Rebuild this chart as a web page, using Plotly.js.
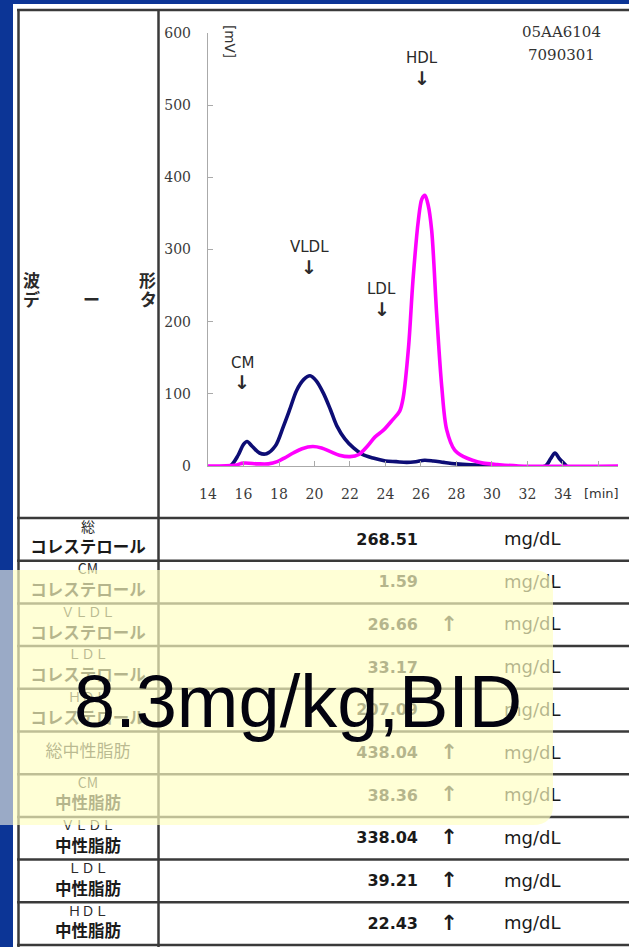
<!DOCTYPE html>
<html>
<head>
<meta charset="utf-8">
<script src="https://cdn.plot.ly/plotly-3.0.1.min.js"></script>
<style>
html,body{margin:0;padding:0;background:#0c3596;}
#chart{width:629px;height:947px;}
</style>
</head>
<body>
<div id="chart"></div>
<script>
// ---- chromatogram data (time [min], signal [mV]) ----
const cholT = [15.0, 15.3, 15.7, 16.0, 16.2, 16.5, 16.9, 17.3, 17.8, 18.25, 18.6, 19.0, 19.4, 19.75, 20.1, 20.5, 20.9, 21.25, 21.7, 22.2, 22.7, 23.3, 24.0, 24.6, 25.2, 25.7, 26.2, 26.7, 27.3, 28.0, 28.8, 29.6, 30.2, 33.0, 33.3, 33.55, 33.8, 34.2];
const cholV = [0, 1, 15, 30, 34, 27, 18, 17, 28, 55, 78, 105, 120, 125, 118, 101, 78, 56, 38, 25, 16, 11, 7, 6, 5, 6, 8, 7, 5, 3, 1.5, 0.5, 0, 0, 10, 18, 10, 0];
const tgT = [14.0, 15.5, 16.0, 16.8, 17.4, 17.9, 18.3, 18.8, 19.3, 19.9, 20.4, 20.9, 21.4, 22.0, 22.5, 23.0, 23.4, 23.9, 24.4, 24.8, 25.0, 25.3, 25.55, 25.85, 26.05, 26.22, 26.4, 26.6, 26.88, 27.17, 27.45, 27.9, 28.4, 28.9, 29.5, 30.3, 31.5, 37.1];
const tgV = [0, 1, 4, 3, 3, 6, 11, 18, 24, 27, 25, 20, 15, 13, 16, 28, 40, 50, 64, 76, 95, 165, 258, 340, 370, 375, 362, 327, 212, 110, 50, 22, 13, 8, 4, 2, 0, 0];

const xTicks = [14, 16, 18, 20, 22, 24, 26, 28, 30, 32, 34, 36];
const xTickText = ['14', '16', '18', '20', '22', '24', '26', '28', '30', '32', '34', ''];
const yTicks = [0, 100, 200, 300, 400, 500, 600];

const peakNames = ['CM', 'VLDL', 'LDL', 'HDL'];
const peakT = [15.92, 19.7, 23.78, 26.08];
const peakLabelV = [143, 303, 245, 565];

const sampleIds = ['05AA6104', '7090301'];

// ---- table ----
const rowLine1 = ['総', 'CM', 'ＶＬＤＬ', 'ＬＤＬ', 'ＨＤＬ', '総中性脂肪', 'CM', 'ＶＬＤＬ', 'ＬＤＬ', 'ＨＤＬ'];
const rowLine2 = ['コレステロール', 'コレステロール', 'コレステロール', 'コレステロール', 'コレステロール', '', '中性脂肪', '中性脂肪', '中性脂肪', '中性脂肪'];
const values = ['268.51', '1.59', '26.66', '33.17', '207.09', '438.04', '38.36', '338.04', '39.21', '22.43'];
const flags = ['', '', '↑', '', '', '↑', '↑', '↑', '↑', '↑'];
const unitText = 'mg/dL';
const overlayText = '8.3mg/kg,BID';

// ---- layout helpers (pixel geometry) ----
const W = 629, H = 947;
const tableTop = 518, tableBottom = 945;
const rowH = (tableBottom - tableTop) / rowLine1.length;
const rowTop = i => tableTop + i * rowH;

const traces = [];
traces.push({x: cholT, y: cholV, type: 'scatter', mode: 'lines', cliponaxis: false,
  line: {color: '#0d0d75', width: 3.6, shape: 'spline', smoothing: 0.9}, hoverinfo: 'skip'});
traces.push({x: tgT, y: tgV, type: 'scatter', mode: 'lines', cliponaxis: false,
  line: {color: '#ff00ff', width: 3.6, shape: 'spline', smoothing: 0.9}, hoverinfo: 'skip'});

// table text (as traces so the translucent overlay sits above them)
const idx = rowLine1.map((_, i) => i);
traces.push({
  x: idx.map(() => 88), y: idx.map(i => rowLine2[i] === '' ? rowTop(i) + 21 : rowTop(i) + 10),
  text: rowLine1, type: 'scatter', mode: 'text', xaxis: 'x2', yaxis: 'y2', cliponaxis: false,
  textposition: 'middle center', hoverinfo: 'skip',
  textfont: {family: 'Noto Sans CJK JP', color: '#2a2a2a',
    size: rowLine1.map((t, i) => rowLine2[i] === '' ? 17 : (t === '総' ? 14 : (t === 'CM' ? 14 : 13.5)))}
});
traces.push({
  x: idx.map(() => 88), y: idx.map(i => rowTop(i) + 31),
  text: rowLine2, type: 'scatter', mode: 'text', xaxis: 'x2', yaxis: 'y2', cliponaxis: false,
  textposition: 'middle center', hoverinfo: 'skip',
  textfont: {family: 'Noto Sans CJK JP', color: '#1a1a1a', size: 16.5, weight: 700}
});
traces.push({
  x: idx.map(() => 418), y: idx.map(i => rowTop(i) + 22.5),
  text: values, type: 'scatter', mode: 'text', xaxis: 'x2', yaxis: 'y2', cliponaxis: false,
  textposition: 'middle left', hoverinfo: 'skip',
  textfont: {family: 'DejaVu Sans', color: '#1a1a1a', size: 16, weight: 700}
});
traces.push({
  x: idx.map(() => 449), y: idx.map(i => rowTop(i) + 22),
  text: flags, type: 'scatter', mode: 'text', xaxis: 'x2', yaxis: 'y2', cliponaxis: false,
  textposition: 'middle center', hoverinfo: 'skip',
  textfont: {family: 'DejaVu Sans', color: '#1a1a1a', size: 21, weight: 700}
});
traces.push({
  x: idx.map(() => 504), y: idx.map(i => rowTop(i) + 22.5),
  text: idx.map(() => unitText), type: 'scatter', mode: 'text', xaxis: 'x2', yaxis: 'y2', cliponaxis: false,
  textposition: 'middle right', hoverinfo: 'skip',
  textfont: {family: 'DejaVu Sans', color: '#1a1a1a', size: 18}
});

// ---- shapes ----
const lineCol = '#3a3a3a';
const shapes = [];
shapes.push({type: 'rect', xref: 'paper', yref: 'paper', x0: 13 / W, x1: 1, y0: 0, y1: 1 - 4 / H,
  fillcolor: '#ffffff', line: {width: 0}, layer: 'below'});
shapes.push({type: 'line', xref: 'x2', yref: 'y2', x0: 17, x1: W, y0: 10, y1: 10, line: {color: lineCol, width: 2.5}, layer: 'below'});
shapes.push({type: 'line', xref: 'x2', yref: 'y2', x0: 18.5, x1: 18.5, y0: 9, y1: tableBottom + 2, line: {color: lineCol, width: 2.5}, layer: 'below'});
shapes.push({type: 'line', xref: 'x2', yref: 'y2', x0: 158.5, x1: 158.5, y0: 9, y1: tableBottom + 2, line: {color: lineCol, width: 2.5}, layer: 'below'});
for (let i = 0; i <= rowLine1.length; i++) {
  shapes.push({type: 'line', xref: 'x2', yref: 'y2', x0: 17, x1: W, y0: rowTop(i), y1: rowTop(i),
    line: {color: lineCol, width: 2.5}, layer: 'below'});
}
// translucent yellow box
shapes.push({type: 'path', xref: 'x2', yref: 'y2', layer: 'above',
  path: 'M -30 570 L 533 570 Q 553 570 553 590 L 553 805 Q 553 825 533 825 L -30 825 Z',
  fillcolor: 'rgba(255,255,195,0.68)', line: {width: 0}});
// overlay over the blue margin looks bluish-grey
shapes.push({type: 'rect', xref: 'x2', yref: 'y2', layer: 'above', x0: 0, x1: 13, y0: 570, y1: 825,
  fillcolor: '#9aaac6', line: {width: 0}});

// ---- annotations ----
const ann = [];
peakNames.forEach((n, i) => {
  ann.push({xref: 'x', yref: 'y', x: peakT[i], y: peakLabelV[i], text: n, showarrow: false,
    font: {family: 'DejaVu Sans', size: 15, color: '#2a2a2a'}});
  ann.push({xref: 'x', yref: 'y', x: peakT[i], y: peakLabelV[i] - 27, text: '↓', showarrow: false,
    font: {family: 'DejaVu Sans', size: 19, color: '#2a2a2a', weight: 700}});
});
sampleIds.forEach((s, i) => {
  ann.push({xref: 'x2', yref: 'y2', x: 561, y: 32 + i * 23, text: s, showarrow: false,
    font: {family: 'DejaVu Serif', size: 15, color: '#333'}});
});
ann.push({xref: 'x2', yref: 'y2', x: 230, y: 41, text: '[mV]', textangle: 90, showarrow: false,
  font: {family: 'DejaVu Sans', size: 13.5, color: '#333'}});
ann.push({xref: 'x', yref: 'y2', x: 36.15, y: 493, text: '[min]', showarrow: false,
  font: {family: 'DejaVu Sans', size: 13, color: '#333'}});
// row header of waveform row
[['波', 31, 279], ['形', 147, 279], ['デ', 31, 298], ['ー', 91, 298], ['タ', 148, 298]].forEach(c => {
  ann.push({xref: 'x2', yref: 'y2', x: c[1], y: c[2], text: c[0], showarrow: false,
    font: {family: 'Noto Sans CJK JP', size: 17, color: '#2a2a2a', weight: 700}});
});
ann.push({xref: 'x2', yref: 'y2', x: 297.5, y: 701, text: overlayText, showarrow: false,
  font: {family: 'Liberation Sans', size: 74, color: '#03030f'}});

const tickFont = {family: 'DejaVu Serif', size: 14, color: '#3a3a3a'};
const layout = {
  width: W, height: H, margin: {l: 0, r: 0, t: 0, b: 0, pad: 0},
  paper_bgcolor: '#0c3596', plot_bgcolor: 'rgba(0,0,0,0)', showlegend: false,
  xaxis: {domain: [208 / W, 618 / W], range: [14, 37.1], tickmode: 'array', tickvals: xTicks, ticktext: xTickText,
    ticks: 'inside', ticklen: 5, tickcolor: '#aaa', showline: true, linecolor: '#aaa', linewidth: 1.2,
    showgrid: false, zeroline: false, tickfont: tickFont, ticklabelstandoff: 15, anchor: 'y', fixedrange: true},
  yaxis: {domain: [1 - 466 / H, 1 - 33 / H], range: [0, 600], tickmode: 'array', tickvals: yTicks,
    ticks: 'inside', ticklen: 5, tickcolor: '#aaa', showline: true, linecolor: '#aaa', linewidth: 1.2,
    showgrid: false, zeroline: false, tickfont: tickFont, ticklabelstandoff: 13, anchor: 'x', fixedrange: true},
  xaxis2: {domain: [0, 1], range: [0, W], visible: false, anchor: 'y2', fixedrange: true},
  yaxis2: {domain: [0, 1], range: [H, 0], visible: false, anchor: 'x2', fixedrange: true},
  shapes: shapes, annotations: ann
};
Plotly.newPlot('chart', traces, layout, {staticPlot: true, displayModeBar: false});
</script>
</body>
</html>
